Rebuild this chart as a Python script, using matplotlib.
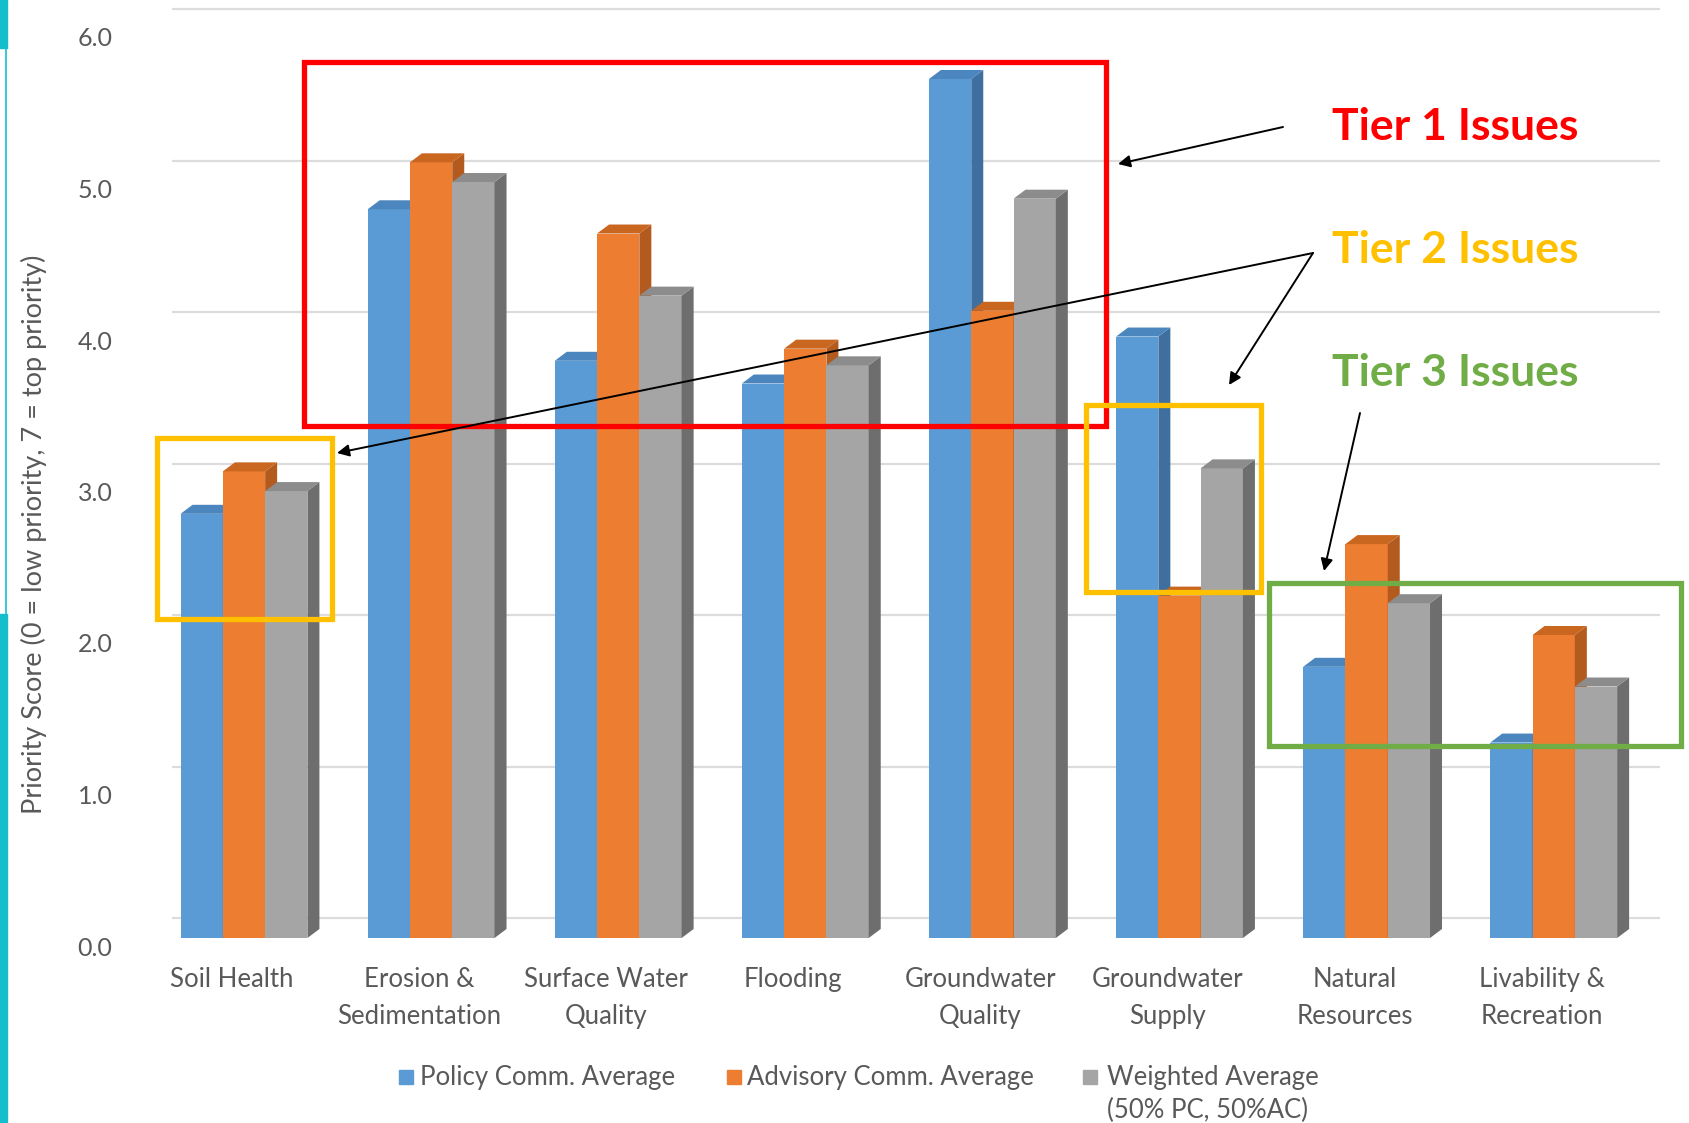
import numpy as np
import matplotlib
matplotlib.use('Agg')
import matplotlib.pyplot as plt
from matplotlib.patches import Polygon, Rectangle, FancyArrowPatch
from matplotlib.lines import Line2D
from matplotlib.transforms import ScaledTranslation

categories = ['Soil Health', 'Erosion &\nSedimentation', 'Surface Water\nQuality', 'Flooding',
              'Groundwater\nQuality', 'Groundwater\nSupply', 'Natural\nResources', 'Livability &\nRecreation']
policy = [2.80, 4.81, 3.81, 3.66, 5.67, 3.97, 1.79, 1.29]
advisory = [3.08, 5.12, 4.65, 3.89, 4.14, 2.26, 2.60, 2.00]
weighted = [2.95, 4.99, 4.24, 3.78, 4.88, 3.10, 2.21, 1.66]
series_names = ['Policy Comm. Average', 'Advisory Comm. Average', 'Weighted Average']
weighted_note = '(50% PC, 50%AC)'
yticks = [0, 1, 2, 3, 4, 5, 6]
ylabel = 'Priority Score (0 = low priority, 7 = top priority)'
tier_labels = ['Tier 1 Issues', 'Tier 2 Issues', 'Tier 3 Issues']

plt.rcParams['font.family'] = ['Lato', 'DejaVu Sans']

W, H = 1690, 1123
fig = plt.figure(figsize=(W / 100, H / 100), dpi=100)


def fx(px):
    return px / W


def fy(py):
    return 1 - py / H


# plot area: category spacing and value scale in pixels
step = 187.1
first = 232
unit = 151.5
base = 938
ax = fig.add_axes([fx(125), fy(base), 1 - fx(125), base / H])
ax.set_xlim((125 - first) / step, (W - first) / step)
ax.set_ylim(0, base / unit)
ax.patch.set_alpha(0)
for sp in ax.spines.values():
    sp.set_visible(False)

# back wall gridlines (3D look: sit above the front plane)
ax.hlines([v + 20 / unit for v in yticks], (172 - first) / step, (1660 - first) / step,
          color='#DCDCDC', lw=1.6, zorder=0)

# 3D-ish bars
w = 0.226
dx = 12 / step
dy = 9 / unit
x = np.arange(len(categories))
center = x + 12 / step
faces = [('#5B9BD5', '#3F6F9E', '#4C86BE'),
         ('#ED7D31', '#B35A1E', '#C9661F'),
         ('#A5A5A5', '#6E6E6E', '#8C8C8C')]
for s, vals in enumerate([policy, advisory, weighted]):
    front, side, top = faces[s]
    left = center - 1.5 * w + s * w
    ax.bar(left, vals, width=w, align='edge', color=front, linewidth=0, zorder=3 + s)
    for xl, v in zip(left, vals):
        xr = xl + w
        ax.add_patch(Polygon([(xr, 0), (xr + dx, dy), (xr + dx, v + dy), (xr, v)],
                             closed=True, color=side, lw=0, zorder=3 + s))
        ax.add_patch(Polygon([(xl, v), (xl + dx, v + dy), (xr + dx, v + dy), (xr, v)],
                             closed=True, color=top, lw=0, zorder=3 + s))

ax.set_yticks(yticks)
ax.set_yticklabels([f'{v:.1f}' for v in yticks])
ax.tick_params(axis='y', length=0, pad=9, labelsize=18, labelcolor='#595959')
for lab in ax.get_yticklabels():
    lab.set_transform(lab.get_transform() + ScaledTranslation(0, -8 / 100, fig.dpi_scale_trans))

ax.set_xticks(x)
ax.set_xticklabels(categories)
ax.tick_params(axis='x', length=0, pad=21, labelsize=18.5, labelcolor='#595959')
for lab in ax.get_xticklabels():
    lab.set_linespacing(1.6)

fig.text(fx(34), fy(534), ylabel, rotation=90, ha='center', va='center',
         fontsize=19.5, color='#595959')

# tier boxes
boxes = [((304, 62, 1106, 426), '#FF0000'),
         ((157, 438, 332, 619), '#FFC000'),
         ((1086, 405, 1261, 592), '#FFC000'),
         ((1269, 583, 1681, 746), '#70AD47')]
for (x0, y0, x1, y1), col in boxes:
    fig.add_artist(Rectangle((fx(x0), fy(y1)), (x1 - x0) / W, (y1 - y0) / H, fill=False,
                             ec=col, lw=3.8, transform=fig.transFigure))

tier_colors = ['#FF0000', '#FFC000', '#70AD47']
tier_y = [127, 250, 373]
for lab, col, ty in zip(tier_labels, tier_colors, tier_y):
    fig.text(fx(1332), fy(ty), lab, color=col, fontsize=32, fontweight='bold',
             ha='left', va='center')

arrows = [((1283, 127), (1118, 164)),
          ((1313, 253), (337, 453)),
          ((1313, 253), (1229, 385)),
          ((1360, 413), (1324, 571))]
for (ax0, ay0), (ax1, ay1) in arrows:
    fig.add_artist(FancyArrowPatch((fx(ax0), fy(ay0)), (fx(ax1), fy(ay1)),
                                   transform=fig.transFigure, arrowstyle='-|>',
                                   mutation_scale=18, lw=1.4, color='black',
                                   shrinkA=0, shrinkB=0))

# legend
leg_sq = [399, 727, 1083]
leg_txt = [420, 747, 1107]
for s, name in enumerate(series_names):
    fig.add_artist(Rectangle((fx(leg_sq[s]), fy(1084)), 14 / W, 14 / H,
                             color=faces[s][0], transform=fig.transFigure))
    fig.text(fx(leg_txt[s]), fy(1077), name, fontsize=18.5, color='#595959',
             ha='left', va='center')
fig.text(fx(1107), fy(1110), weighted_note, fontsize=18.5, color='#595959',
         ha='left', va='center')

# slide edge strip on the left
cyan = '#14BFCB'
fig.add_artist(Rectangle((0, fy(48)), 7 / W, 48 / H, color=cyan, transform=fig.transFigure))
fig.add_artist(Rectangle((0, 0), 7 / W, (H - 614) / H, color=cyan, transform=fig.transFigure))
fig.add_artist(Line2D([fx(6), fx(6)], [fy(48), fy(614)], lw=1.2, color=cyan,
                      transform=fig.transFigure))

fig.savefig('out.png', dpi=100)
